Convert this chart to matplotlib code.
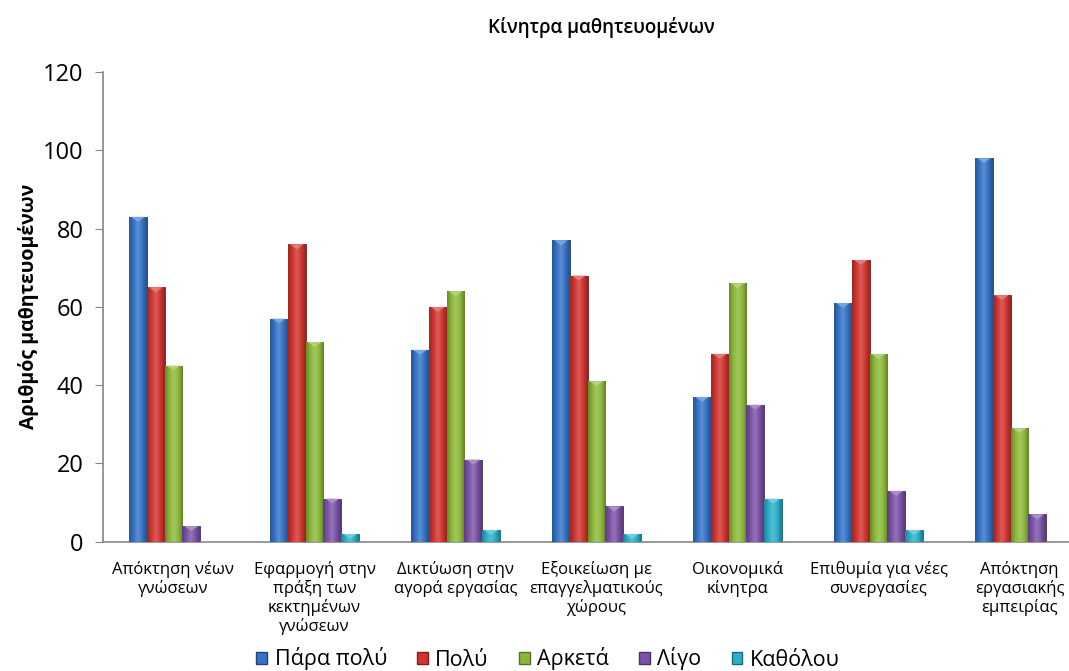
import matplotlib
matplotlib.use("Agg")
import matplotlib.pyplot as plt
import numpy as np
from matplotlib.colors import LinearSegmentedColormap, to_rgb
from matplotlib.patches import Polygon, Patch

plt.rcParams['font.family'] = ['Open Sans', 'DejaVu Sans']

categories = [
    "Απόκτηση νέων\nγνώσεων",
    "Εφαρμογή στην\nπράξη των\nκεκτημένων\nγνώσεων",
    "Δικτύωση στην\nαγορά εργασίας",
    "Εξοικείωση με\nεπαγγελματικούς\nχώρους",
    "Οικονομικά\nκίνητρα",
    "Επιθυμία για νέες\nσυνεργασίες",
    "Απόκτηση\nεργασιακής\nεμπειρίας",
]
series_names = ["Πάρα πολύ", "Πολύ", "Αρκετά", "Λίγο", "Καθόλου"]
para_poly = [83, 57, 49, 77, 37, 61, 98]
poly = [65, 76, 60, 68, 48, 72, 63]
arketa = [45, 51, 64, 41, 66, 48, 29]
ligo = [4, 11, 21, 9, 35, 13, 7]
katholou = [0, 2, 3, 2, 11, 3, 0]
series = [para_poly, poly, arketa, ligo, katholou]
colors = ["#3572C6", "#D0352F", "#8CB83A", "#7B52A6", "#2BAFC9"]

fig = plt.figure(figsize=(10.69, 6.71), dpi=100)
ax = fig.add_axes([103/1069, (671-541.7)/671, 987/1069, 469.7/671])

n = len(series)
width = 0.126
x = np.arange(len(categories))

def shade(c, f):
    r = np.array(to_rgb(c))
    if f < 1:
        return tuple(r * f)
    return tuple(r + (1 - r) * (f - 1))

for i, (vals, col) in enumerate(zip(series, colors)):
    offs = (i - (n - 1) / 2) * width
    bars = ax.bar(x + offs, vals, width, color=col, edgecolor=shade(col, 0.55),
                  linewidth=0.6, zorder=2)
    cmap = LinearSegmentedColormap.from_list(
        "g", [shade(col, 0.75), shade(col, 1.0), shade(col, 1.2), shade(col, 1.0), shade(col, 0.7)])
    grad = np.linspace(0, 1, 64).reshape(1, -1)
    for b, v in zip(bars, vals):
        if v <= 0:
            continue
        x0 = b.get_x()
        im = ax.imshow(grad, cmap=cmap, extent=[x0, x0 + width, 0, v],
                       aspect='auto', zorder=3, interpolation='bicubic')
        im.set_clip_path(b)
        th = min(1.3, v)
        tri = Polygon([[x0 + width * 0.12, v], [x0 + width * 0.88, v],
                       [x0 + width / 2, v - th]], closed=True,
                      facecolor=shade(col, 1.35), edgecolor='none', zorder=4)
        ax.add_patch(tri)

ax.set_xlim(-0.5, 6.5)
ax.set_ylim(0, 120)
ax.set_yticks(np.arange(0, 121, 20))
ax.set_xticks(x)
ax.set_xticklabels(categories, fontsize=12, linespacing=1.15)
ax.tick_params(axis='x', length=0, pad=14)
ax.tick_params(axis='y', labelsize=17, length=6, color='#868686', pad=8)
for s in ['top', 'right']:
    ax.spines[s].set_visible(False)
for s in ['left', 'bottom']:
    ax.spines[s].set_color('#868686')
    ax.spines[s].set_linewidth(1.2)

ax.set_ylabel("Αριθμός μαθητευομένων", fontsize=14, fontweight='bold', labelpad=3)
fig.text(601/1069, 1 - 28/671, "Κίνητρα μαθητευομένων", fontsize=13.5,
         fontweight='semibold', ha='center', va='center')

handles = [Patch(facecolor=c, edgecolor=shade(c, 0.6)) for c in colors]
fig.legend(handles, series_names, loc='center', bbox_to_anchor=(548/1069, 1 - 659/671),
           ncol=5, frameon=False, fontsize=15.5, handlelength=0.5, handleheight=0.5,
           handletextpad=0.35, columnspacing=1.4, borderpad=0)

fig.savefig("out.png", dpi=100)
